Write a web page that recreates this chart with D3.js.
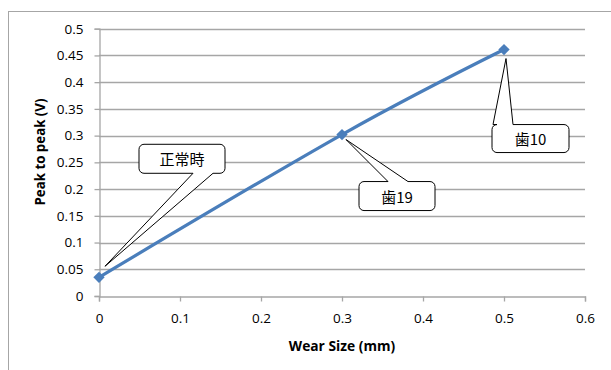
<!DOCTYPE html>
<html>
<head>
<meta charset="utf-8">
<script src="https://cdn.jsdelivr.net/npm/d3@7/dist/d3.min.js"></script>
<style>
  html, body { margin: 0; padding: 0; background: #fff; }
  svg { display: block; }
</style>
</head>
<body>
<svg id="chart" width="611" height="370"></svg>
<script>
// Wear size (mm) and measured peak-to-peak voltage (V)
const wearSize = [0, 0.3, 0.5];
const peakToPeak = [0.035, 0.302, 0.461];
const pointLabels = ["正常時", "歯19", "歯10"];
const xTicks = [0, 0.1, 0.2, 0.3, 0.4, 0.5, 0.6];
const yTicks = [0, 0.05, 0.1, 0.15, 0.2, 0.25, 0.3, 0.35, 0.4, 0.45, 0.5];

// Callout layout, in pixels relative to the point it refers to
const callouts = [
  { tip: [6, -11], box: [40, -133, 86, 29], base: [54, 74], side: "bottom" },
  { tip: [4, 5],   box: [17, 47, 76, 29],   base: [29, 49], side: "top" },
  { tip: [2, 9],   box: [-12, 75, 77, 28],  base: [1, 21],  side: "top" }
];

const font = "'Open Sans', 'Liberation Sans', sans-serif";
const svg = d3.select("#chart");

const margin = { left: 99, right: 26, top: 28.7, bottom: 74 };
const W = 611, H = 370;

const x = d3.scaleLinear().domain([0, 0.6]).range([margin.left, W - margin.right]);
const y = d3.scaleLinear().domain([0, 0.5]).range([H - margin.bottom, margin.top]);

// Chart area frame (extends past the window on the right and bottom)
svg.append("rect")
  .attr("x", 8.5).attr("y", 11.5)
  .attr("width", 700).attr("height", 500)
  .attr("fill", "none").attr("stroke", "#a6a6a6").attr("stroke-width", 1);

// Horizontal gridlines
svg.append("g")
  .selectAll("line")
  .data(yTicks.slice(1))
  .join("line")
  .attr("x1", x(0)).attr("x2", x(0.6))
  .attr("y1", d => Math.round(y(d)) + 0.5).attr("y2", d => Math.round(y(d)) + 0.5)
  .attr("stroke", "#a6a6a6").attr("stroke-width", 1.3);

// Axes
const xAxis = svg.append("g")
  .attr("transform", `translate(0,${Math.round(y(0)) + 0.5})`)
  .call(d3.axisBottom(x).tickValues(xTicks).tickSize(5).tickPadding(12)
    .tickFormat(d => d3.format("")(+d.toFixed(1))));
const yAxis = svg.append("g")
  .attr("transform", `translate(${Math.round(x(0)) + 0.5},0)`)
  .call(d3.axisLeft(y).tickValues(yTicks).tickSize(5).tickPadding(11)
    .tickFormat(d => d3.format("")(+d.toFixed(2))));

[xAxis, yAxis].forEach(g => {
  g.select(".domain").attr("stroke", "#a6a6a6").attr("stroke-width", 1.3);
  g.selectAll(".tick line").attr("stroke", "#a6a6a6").attr("stroke-width", 1.3);
  g.selectAll(".tick text")
    .attr("fill", "#000")
    .style("font-family", font)
    .style("font-size", "13.5px");
});

// Axis titles
svg.append("text")
  .attr("x", (x(0) + x(0.6)) / 2).attr("y", 351)
  .attr("text-anchor", "middle")
  .style("font-family", font).style("font-size", "13.8px").style("font-weight", "bold")
  .text("Wear Size  (mm)");
svg.append("text")
  .attr("transform", "translate(45,152) rotate(-90)")
  .attr("text-anchor", "middle")
  .style("font-family", font).style("font-size", "13.3px").style("font-weight", "bold")
  .text("Peak to peak (V)");

const data = wearSize.map((w, i) => ({ x: w, y: peakToPeak[i], label: pointLabels[i], c: callouts[i] }));

// Smoothed series line
svg.append("path")
  .datum(data)
  .attr("d", d3.line().x(d => x(d.x)).y(d => y(d.y)).curve(d3.curveCatmullRom.alpha(0)))
  .attr("fill", "none")
  .attr("stroke", "#4a7ebb")
  .attr("stroke-width", 3.2)
  .attr("stroke-linejoin", "round");

// Diamond markers
svg.append("g")
  .selectAll("path")
  .data(data)
  .join("path")
  .attr("transform", d => `translate(${x(d.x)},${y(d.y)}) rotate(45)`)
  .attr("d", "M-4,-4H4V4H-4Z")
  .attr("fill", "#4a7ebb");

// Callout shapes: rounded box with a wedge pointing at the data point
function calloutPath(px, py, c) {
  const [bx, by, bw, bh] = c.box.map((v, i) => v + (i === 0 ? px : i === 1 ? py : 0));
  const r = 5;
  const tx = px + c.tip[0], ty = py + c.tip[1];
  const b0 = bx + c.base[0], b1 = bx + c.base[1];
  const p = d3.path();
  if (c.side === "top") {
    p.moveTo(bx + r, by);
    p.lineTo(b0, by); p.lineTo(tx, ty); p.lineTo(b1, by);
    p.lineTo(bx + bw - r, by);
    p.arcTo(bx + bw, by, bx + bw, by + r, r);
    p.lineTo(bx + bw, by + bh - r);
    p.arcTo(bx + bw, by + bh, bx + bw - r, by + bh, r);
    p.lineTo(bx + r, by + bh);
    p.arcTo(bx, by + bh, bx, by + bh - r, r);
    p.lineTo(bx, by + r);
    p.arcTo(bx, by, bx + r, by, r);
  } else {
    p.moveTo(bx + r, by);
    p.lineTo(bx + bw - r, by);
    p.arcTo(bx + bw, by, bx + bw, by + r, r);
    p.lineTo(bx + bw, by + bh - r);
    p.arcTo(bx + bw, by + bh, bx + bw - r, by + bh, r);
    p.lineTo(b1, by + bh); p.lineTo(tx, ty); p.lineTo(b0, by + bh);
    p.lineTo(bx + r, by + bh);
    p.arcTo(bx, by + bh, bx, by + bh - r, r);
    p.lineTo(bx, by + r);
    p.arcTo(bx, by, bx + r, by, r);
  }
  p.closePath();
  return { d: p.toString(), cx: bx + bw / 2, cy: by + bh / 2 };
}

const notes = svg.append("g")
  .selectAll("g")
  .data(data)
  .join("g");
notes.each(function (d) {
  const g = d3.select(this);
  const cp = calloutPath(x(d.x), y(d.y), d.c);
  g.append("path").attr("d", cp.d)
    .attr("fill", "#fff").attr("stroke", "#000").attr("stroke-width", 1);
  g.append("text")
    .attr("x", cp.cx).attr("y", cp.cy)
    .attr("text-anchor", "middle").attr("dominant-baseline", "central")
    .style("font-family", "'Noto Sans CJK JP', 'Liberation Sans', sans-serif")
    .style("font-size", "15px")
    .text(d.label);
});
</script>
</body>
</html>
